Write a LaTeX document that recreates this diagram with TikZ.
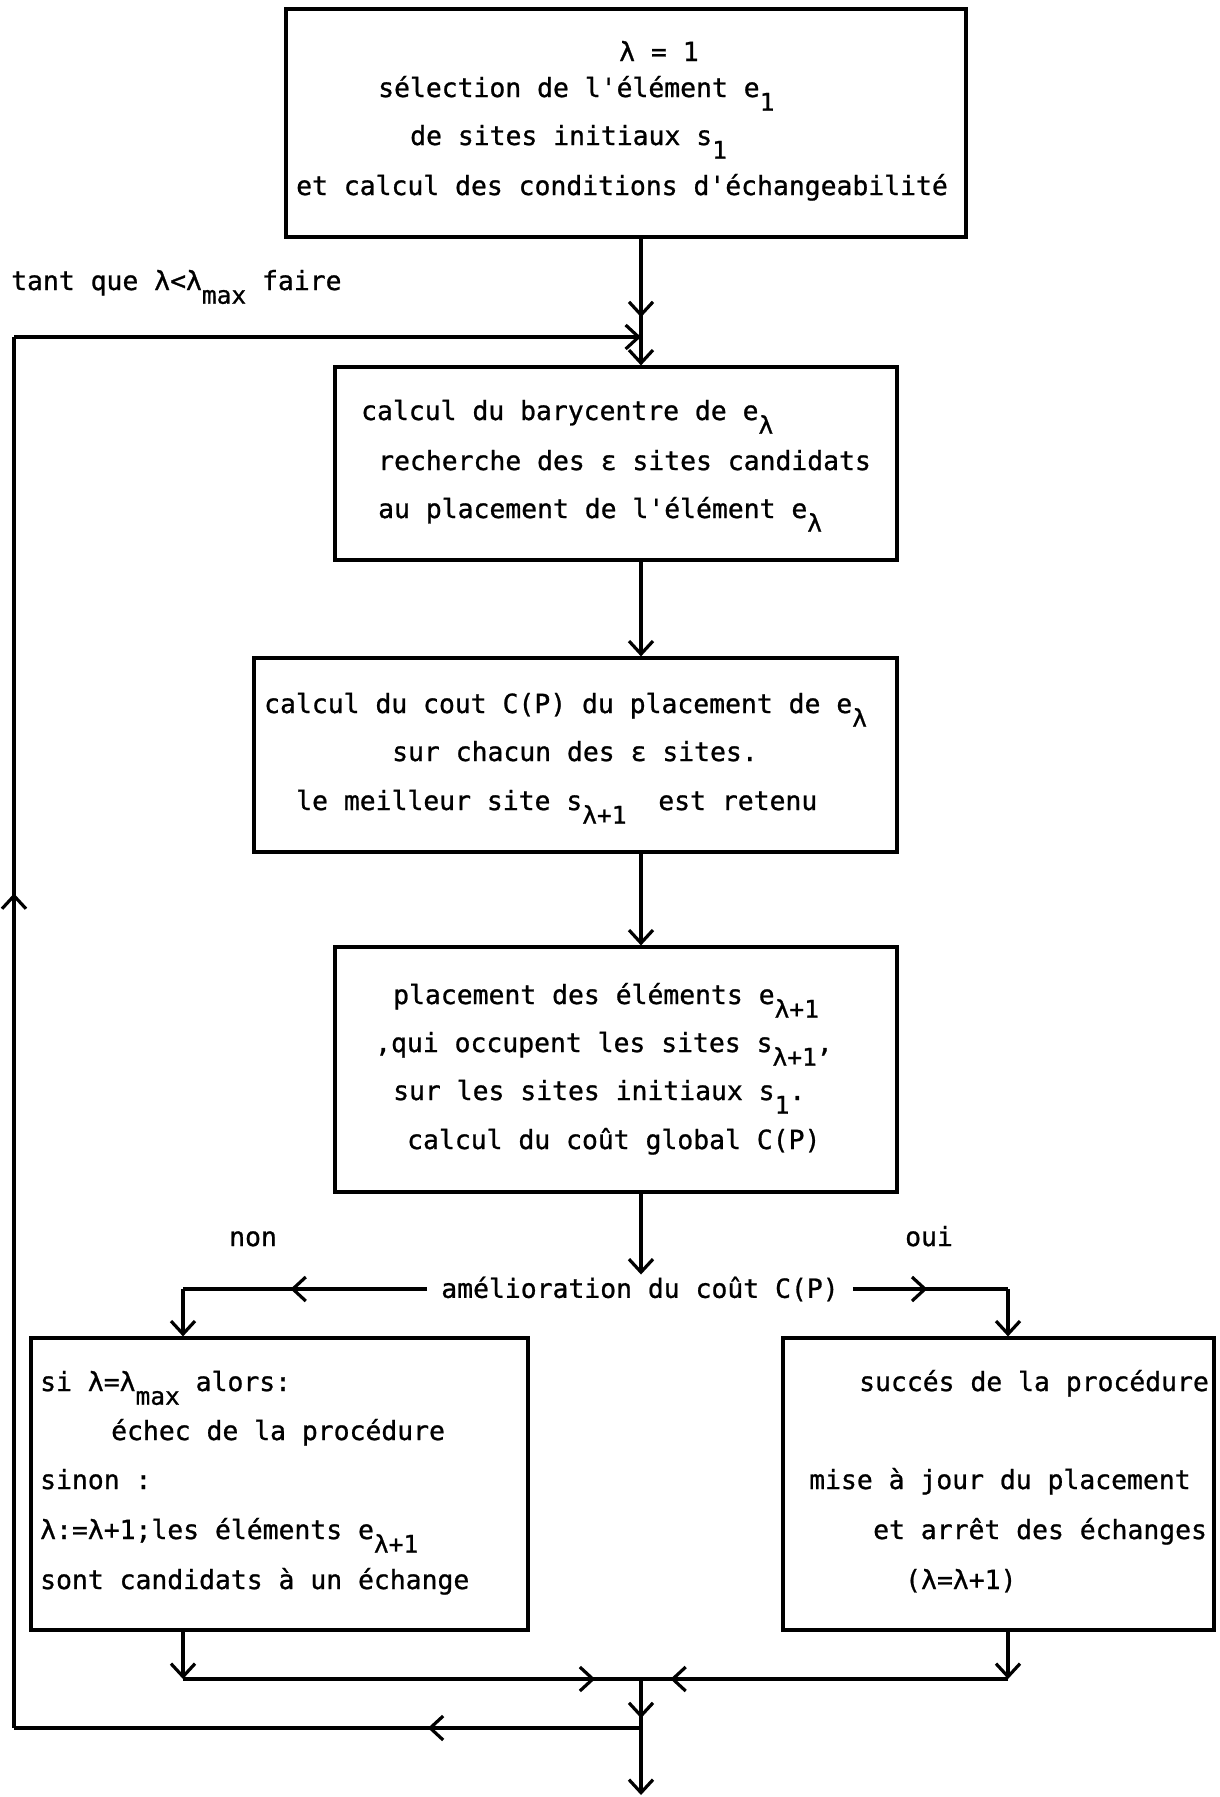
\documentclass[tikz,border=0pt]{standalone}
\usepackage{fontspec}
\setmainfont{DejaVu Sans Mono}[FakeBold=0.9]
\usetikzlibrary{arrows.meta,decorations.markings}
\newcommand\sbs[1]{\raisebox{-0.52em}{\fontsize{24.5}{24.5}\selectfont #1}}
\newcommand\apq{\textquotesingle}
\tikzset{
  >={Straight Barb[length=13pt,width=24pt]},
  conn/.style={line width=3.2pt},
  midarrow/.style={postaction={decorate},decoration={markings,mark=at position #1 with {\arrow[line width=3.2pt]{>}}}},
  boxnode/.style={draw,line width=3.2pt,inner sep=0pt},
  txt/.style={inner sep=0pt,anchor=base west},
}
\begin{document}
\begin{tikzpicture}[x=1pt,y=-1pt,font=\fontsize{26.4}{30}\selectfont]
\useasboundingbox (0,0) rectangle (1219,1797);
% boxes
\node[boxnode,minimum width=680pt,minimum height=228pt] (b1) at (626,123) {};
\node[boxnode,minimum width=562pt,minimum height=193pt] (b2) at (616,463.5) {};
\node[boxnode,minimum width=643pt,minimum height=194pt] (b3) at (575.5,755) {};
\node[boxnode,minimum width=562pt,minimum height=245pt] (b4) at (616,1069.5) {};
\node[boxnode,minimum width=497pt,minimum height=292pt] (b5) at (279.5,1484) {};
\node[boxnode,minimum width=431pt,minimum height=292pt] (b6) at (998.5,1484) {};
% texts box1
\node[txt] (t11) at (619,61) {λ = 1};
\node[txt] (t12) at (378,97) {sélection de l\apq élément e\sbs{1}};
\node[txt] (t13) at (410,145) {de sites initiaux s\sbs{1}};
\node[txt] (t14) at (296,195) {et calcul des conditions d\apq échangeabilité};
% box2
\node[txt] (t21) at (361,420) {calcul du barycentre de e\sbs{λ}};
\node[txt] (t22) at (378,470) {recherche des ε sites candidats};
\node[txt] (t23) at (378,518) {au placement de l\apq élément e\sbs{λ}};
% box3
\node[txt] (t31) at (264,713) {calcul du cout C(P) du placement de e\sbs{λ}};
\node[txt] (t32) at (392,761) {sur chacun des ε sites.};
\node[txt] (t33) at (296,810) {le meilleur site s\sbs{λ+1}\ \ est retenu};
% box4
\node[txt] (t41) at (393,1004) {placement des éléments e\sbs{λ+1}};
\node[txt] (t42) at (375,1052) {,qui occupent les sites s\sbs{λ+1},};
\node[txt] (t43) at (393,1100) {sur les sites initiaux s\sbs{1}.};
\node[txt] (t44) at (407,1149) {calcul du coût global C(P)};
% decision
\node[inner xsep=14pt,inner ysep=2pt] (dec) at (640,1289) {amélioration du coût C(P)};
\node[txt] (non) at (229,1246) {non};
\node[txt] (oui) at (905,1246) {oui};
% box5
\node[txt] (t51) at (40,1391) {si λ=λ\sbs{max} alors:};
\node[txt] (t52) at (111,1440) {échec de la procédure};
\node[txt] (t53) at (40,1489) {sinon :};
\node[txt] (t54) at (40,1539) {λ:=λ+1;les éléments e\sbs{λ+1}};
\node[txt] (t55) at (40,1589) {sont candidats à un échange};
% box6
\node[txt] (t61) at (859,1391) {succés de la procédure};
\node[txt] (t62) at (809,1489) {mise à jour du placement};
\node[txt] (t63) at (873,1539) {et arrêt des échanges};
\node[txt] (t64) at (905,1589) {(λ=λ+1)};
% loop label
\node[txt] (tq) at (11,290) {tant que λ<λ\sbs{max} faire};
% coordinates
\coordinate (mx) at (641,0);
\coordinate (lt) at (14,337);
\coordinate (lb) at (14,1728);
\coordinate (jn) at (641,1679);
\coordinate (jb) at (641,1728);
\coordinate (end) at (641,1795);
\coordinate (lc) at (183,1289);
\coordinate (rc) at (1008,1289);
\coordinate (lj) at (183,1679);
\coordinate (rj) at (1008,1679);
% connectors
\draw[conn,->,midarrow=0.62] (b1.south -| mx) -- (b2.north -| mx);
\draw[conn,->] (b2.south -| mx) -- (b3.north -| mx);
\draw[conn,->] (b3.south -| mx) -- (b4.north -| mx);
\draw[conn,->] (b4.south -| mx) -- (dec.north -| mx);
\draw[conn,midarrow=0.56] (dec.west) -- (lc);
\draw[conn,->] (lc) -- (b5.north -| lc);
\draw[conn,midarrow=0.48] (dec.east) -- (rc);
\draw[conn,->] (rc) -- (b6.north -| rc);
\draw[conn,->] (b5.south -| lj) -- (lj);
\draw[conn,midarrow=0.9] (lj) -- (jn);
\draw[conn,->] (b6.south -| rj) -- (rj);
\draw[conn,midarrow=0.92] (rj) -- (jn);
\draw[conn,midarrow=0.8] (jn) -- (jb);
\draw[conn,->] (jb) -- (end);
\draw[conn,midarrow=0.34] (jb) -- (lb);
\draw[conn,midarrow=0.6] (lb) -- (lt);
\draw[conn,->] (lt) -- (lt -| mx);
\end{tikzpicture}
\end{document}
